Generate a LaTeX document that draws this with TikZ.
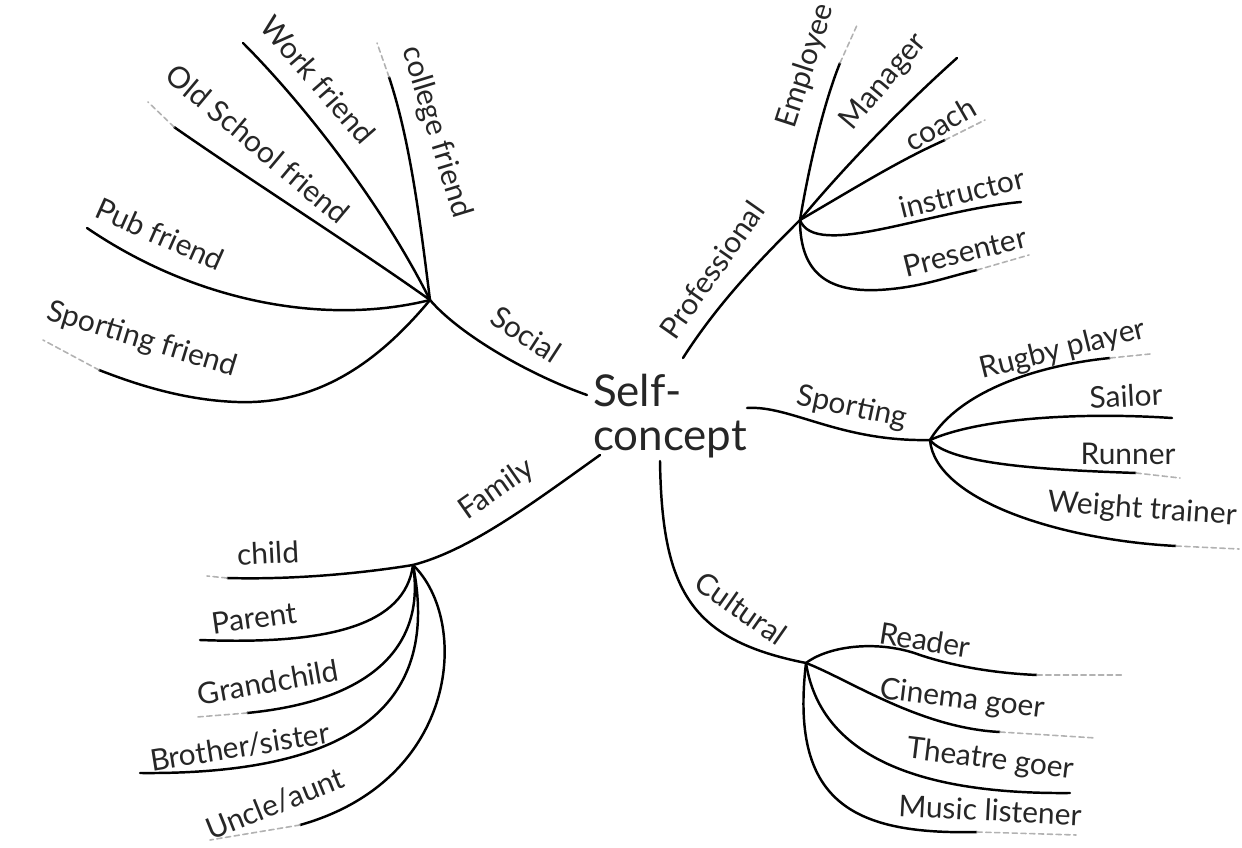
\documentclass[tikz,border=0pt]{standalone}
\usepackage{fontspec}
\setmainfont{Lato}
\begin{document}
\begin{tikzpicture}[x=0.02cm,y=-0.02cm,
  br/.style={line width=1.4pt, line cap=round, black},
  tail/.style={line width=0.9pt, line cap=round, gray!60, dash pattern=on 3pt off 2pt},
  lab/.style={font=\fontsize{17}{20}\selectfont, text=black!85, inner sep=0pt},
  core/.style={font=\fontsize{25}{25}\selectfont, text=black!85, inner sep=0pt, align=left},
]
\useasboundingbox (0,0) rectangle (1242,848);

% centre
\node[core] (sc) at (670,416) {Self-\\concept};

% ---------------- Social ----------------
\coordinate (soc0) at (587,395);
\coordinate (shub) at (430,300);
\coordinate (cf) at (389,77);   \coordinate (cfe) at (377,43);
\coordinate (wf) at (243,43);
\coordinate (osf) at (174,127); \coordinate (osfe) at (148,102);
\coordinate (pf) at (87,228);
\coordinate (sfb) at (237,402);
\coordinate (sf) at (99,370);   \coordinate (sfe) at (43,340);

\draw[br] (soc0) .. controls (530,375) and (460,335) .. (shub);
\draw[br] (shub) .. controls (420,220) and (410,140) .. (cf);
\draw[tail] (cf) -- (cfe);
\draw[br] (shub) .. controls (380,200) and (300,100) .. (wf);
\draw[br] (shub) .. controls (360,250) and (250,180) .. (osf);
\draw[tail] (osf) -- (osfe);
\draw[br] (shub) .. controls (330,325) and (200,305) .. (pf);
\draw[br] (shub) .. controls (380,360) and (320,405) .. (sfb) .. controls (180,400) and (130,382) .. (sf);
\draw[tail] (sf) -- (sfe);

\node[lab, rotate=-33] (tsoc) at (526,334) {Social};
\node[lab, rotate=-73] (tcf) at (436,132) {college friend};
\node[lab, rotate=-49] (twf) at (318,80) {Work friend};
\node[lab, rotate=-40] (tos) at (258,144) {Old School friend};
\node[lab, rotate=-24] (tpf) at (160,234) {Pub friend};
\node[lab, rotate=-17] (tsf) at (142,340) {Sporting friend};

% ---------------- Professional ----------------
\coordinate (pr0) at (683,358);
\coordinate (phub) at (800,220);
\coordinate (emp) at (840,63);  \coordinate (empe) at (858,23);
\coordinate (man) at (957,58);
\coordinate (cch) at (945,140); \coordinate (cche) at (985,120);
\coordinate (ins) at (1021,202);
\coordinate (preb) at (878,290);
\coordinate (pre) at (977,270); \coordinate (pree) at (1029,255);

\draw[br] (pr0) .. controls (720,300) and (765,255) .. (phub);
\draw[br] (phub) .. controls (810,160) and (825,100) .. (emp);
\draw[tail] (emp) -- (empe);
\draw[br] (phub) .. controls (850,160) and (910,100) .. (man);
\draw[br] (phub) .. controls (860,185) and (900,160) .. (cch);
\draw[tail] (cch) -- (cche);
\draw[br] (phub) .. controls (815,260) and (930,210) .. (ins);
\draw[br] (phub) .. controls (800,275) and (830,292) .. (preb) .. controls (920,288) and (950,276) .. (pre);
\draw[tail] (pre) -- (pree);

\node[lab, rotate=55] (tpro) at (712,270) {Professional};
\node[lab, rotate=72] (temp) at (806,66) {Employee};
\node[lab, rotate=50] (tman) at (884,82) {Manager};
\node[lab, rotate=30] (tcch) at (940,124) {coach};
\node[lab, rotate=14] (tins) at (962,193) {instructor};
\node[lab, rotate=14] (tpre) at (965,252) {Presenter};

% ---------------- Sporting ----------------
\coordinate (sp0) at (747,408);
\coordinate (sphub) at (930,440);
\coordinate (rug) at (1110,358); \coordinate (ruge) at (1150,354);
\coordinate (sai) at (1172,418);
\coordinate (run) at (1136,473); \coordinate (rune) at (1180,478);
\coordinate (wt) at (1176,546);  \coordinate (wte) at (1239,549);

\draw[br] (sp0) .. controls (790,405) and (840,442) .. (sphub);
\draw[br] (sphub) .. controls (960,390) and (1040,365) .. (rug);
\draw[tail] (rug) -- (ruge);
\draw[br] (sphub) .. controls (980,418) and (1080,412) .. (sai);
\draw[br] (sphub) .. controls (950,465) and (1050,470) .. (run);
\draw[tail] (run) -- (rune);
\draw[br] (sphub) .. controls (935,500) and (1060,540) .. (wt);
\draw[tail] (wt) -- (wte);

\node[lab, rotate=-12] (tsp) at (852,408) {Sporting};
\node[lab, rotate=14] (trug) at (1063,350) {Rugby player};
\node[lab, rotate=3] (tsai) at (1126,396) {Sailor};
\node[lab] (trun) at (1128,454) {Runner};
\node[lab, rotate=-4] (twt) at (1142,510) {Weight trainer};

% ---------------- Cultural ----------------
\coordinate (cu0) at (660,461);
\coordinate (chub) at (806,663);
\coordinate (rdm) at (920,655);
\coordinate (rd) at (1037,675);  \coordinate (rde) at (1124,675);
\coordinate (cin) at (1000,732); \coordinate (cine) at (1096,738);
\coordinate (th) at (1070,793);
\coordinate (mus) at (977,832);  \coordinate (muse) at (1076,835);

\draw[br] (cu0) .. controls (662,590) and (690,640) .. (chub);
\draw[br] (chub) .. controls (830,645) and (880,640) .. (rdm) .. controls (950,665) and (990,673) .. (rd);
\draw[tail] (rd) -- (rde);
\draw[br] (chub) .. controls (850,680) and (920,728) .. (cin);
\draw[tail] (cin) -- (cine);
\draw[br] (chub) .. controls (815,720) and (860,795) .. (th);
\draw[br] (chub) .. controls (790,800) and (850,835) .. (mus);
\draw[tail] (mus) -- (muse);

\node[lab, rotate=-35] (tcu) at (741,608) {Cultural};
\node[lab, rotate=-9] (trd) at (925,640) {Reader};
\node[lab, rotate=-7] (tcin) at (962,700) {Cinema goer};
\node[lab, rotate=-7] (tth) at (990,760) {Theatre goer};
\node[lab, rotate=-3] (tmus) at (990,810) {Music listener};

% ---------------- Family ----------------
\coordinate (fa0) at (600,455);
\coordinate (fhub) at (413,565);
\coordinate (ch) at (227,578);  \coordinate (che) at (207,576);
\coordinate (par) at (200,640);
\coordinate (gc) at (247,713);  \coordinate (gce) at (197,717);
\coordinate (bs) at (140,773);
\coordinate (ua) at (300,825);  \coordinate (uae) at (210,840);

\draw[br] (fa0) .. controls (530,505) and (470,550) .. (fhub);
\draw[br] (fhub) .. controls (370,572) and (300,580) .. (ch);
\draw[tail] (ch) -- (che);
\draw[br] (fhub) .. controls (405,625) and (330,645) .. (par);
\draw[br] (fhub) .. controls (425,640) and (380,700) .. (gc);
\draw[tail] (gc) -- (gce);
\draw[br] (fhub) .. controls (440,700) and (360,775) .. (bs);
\draw[br] (fhub) .. controls (470,620) and (460,780) .. (ua);
\draw[tail] (ua) -- (uae);

\node[lab, rotate=35] (tfa) at (497,490) {Family};
\node[lab, rotate=3] (tch) at (268,553) {child};
\node[lab, rotate=8] (tpar) at (254,618) {Parent};
\node[lab, rotate=10] (tgc) at (268,682) {Grandchild};
\node[lab, rotate=9] (tbs) at (240,747) {Brother/sister};
\node[lab, rotate=22] (tua) at (275,804) {Uncle/aunt};
\end{tikzpicture}
\end{document}
